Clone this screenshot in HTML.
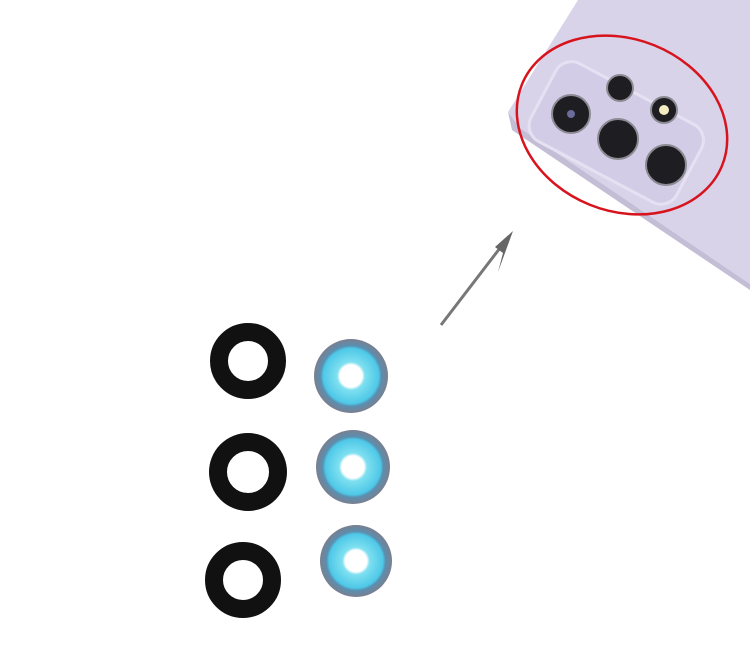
<!DOCTYPE html>
<html><head><style>html,body{margin:0;padding:0;background:#fff;}svg{display:block}</style></head>
<body>
<svg width="750" height="671" viewBox="0 0 750 671" xmlns="http://www.w3.org/2000/svg">
<defs>
<radialGradient id="bl" cx="50%" cy="50%" r="50%">
<stop offset="0" stop-color="#ffffff"/><stop offset="0.3" stop-color="#ffffff"/><stop offset="0.38" stop-color="#7fe0f0"/><stop offset="0.75" stop-color="#4ec8e8"/><stop offset="0.82" stop-color="#5a8fb0"/><stop offset="1" stop-color="#7a7f90"/>
</radialGradient>
</defs>
<polygon points="578,0 750,0 750,284 520,128 508,112" fill="#d9d3ea"/>
<polygon points="508,112 520,128 750,284 750,290 512,130" fill="#c3bdd6"/>
<g transform="rotate(28 615 130)">
<rect x="535" y="88" width="165" height="88" rx="18" fill="#d2cce6" stroke="#e6e1f2" stroke-width="3"/>
</g>
<g fill="#1d1d22" stroke="#8c8a92" stroke-width="2">
<circle cx="571" cy="114" r="19"/><circle cx="620" cy="88" r="13"/><circle cx="618" cy="139" r="20"/><circle cx="664" cy="110" r="13"/><circle cx="666" cy="165" r="20"/>
</g>
<circle cx="571" cy="114" r="4" fill="#6a6c9a"/><circle cx="664" cy="110" r="5" fill="#f2ecc0"/>
<ellipse cx="622" cy="125" rx="108" ry="86" transform="rotate(22 622 125)" fill="none" stroke="#d7141e" stroke-width="2.5"/>
<line x1="441" y1="325" x2="500" y2="248" stroke="#777" stroke-width="3"/>
<polygon points="513,231 495,247 503,253 498,272" fill="#666"/>
<g fill="none" stroke="#111">
<circle cx="248" cy="361" r="29" stroke-width="18"/>
<circle cx="248" cy="472" r="30" stroke-width="18"/>
<circle cx="243" cy="580" r="29" stroke-width="18"/>
</g>
<circle cx="351" cy="376" r="37" fill="url(#bl)"/>
<circle cx="353" cy="467" r="37" fill="url(#bl)"/>
<circle cx="356" cy="561" r="36" fill="url(#bl)"/>
</svg>
</body></html>
